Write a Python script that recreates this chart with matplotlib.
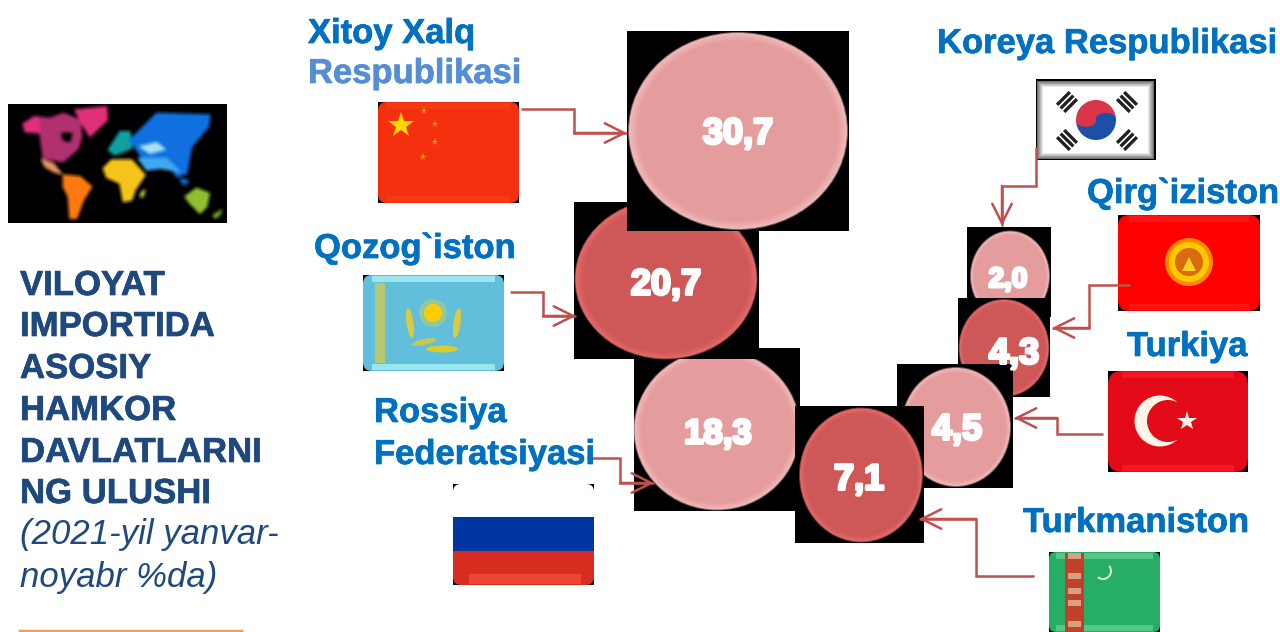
import numpy as np
import matplotlib
matplotlib.use('Agg')
import matplotlib.pyplot as plt
import matplotlib.patheffects as pe
from matplotlib.patches import Rectangle, Ellipse, FancyBboxPatch, Polygon, Circle, Wedge
from matplotlib.colors import to_rgb

plt.rcParams['font.family'] = ['Liberation Sans', 'DejaVu Sans']

# bubbles, in drawing order
values = [18.3, 20.7, 30.7, 2.0, 4.3, 4.5, 7.1]
bubble_x = [717, 666, 738, 1010, 1004, 956, 861]
bubble_y = [430, 279, 131, 276, 348, 427, 475]
bubble_w = [166, 182, 219, 79, 90, 109, 123]
bubble_h = [160, 160, 197, 90, 97, 119, 134]
# black box behind each bubble: left, top, right, bottom
boxes = [(634, 348, 800, 511), (574, 202, 759, 359), (627, 31, 849, 231),
         (967, 227, 1051, 317), (958, 298, 1050, 397), (897, 364, 1013, 488),
         (795, 406, 924, 543)]
shades = ['light', 'dark', 'light', 'light', 'dark', 'light', 'dark']
value_x = [718, 666, 738, 1008, 1014, 957, 859]
value_y = [434, 285, 134, 280, 354, 430, 480]
value_size = [25, 26, 26, 20, 26, 26, 26]

# country labels
labels = ['Xitoy Xalq', 'Respublikasi', 'Koreya Respublikasi', 'Qirg`iziston', 'Qozog`iston',
          'Turkiya', 'Rossiya', 'Federatsiyasi', 'Turkmaniston']
label_x = [308, 308, 937, 1087, 314, 1127, 374, 374, 1023]
label_y = [43, 83, 53, 203, 258, 356, 422, 464, 532]
label_col = ['#0070C0', '#558ED5', '#0070C0', '#0070C0', '#0070C0', '#0070C0', '#0070C0', '#0070C0', '#0070C0']

# connectors
links = [[(521, 109), (574, 109), (574, 133), (627, 133)],
         [(510, 292), (543, 292), (543, 316), (576, 316)],
         [(587, 458), (620, 458), (620, 483), (654, 483)],
         [(1036, 147), (1036, 186), (1002, 186), (1002, 226)],
         [(1130, 285), (1089, 285), (1089, 328), (1052, 328)],
         [(1103, 434), (1057, 434), (1057, 418), (1014, 418)],
         [(1034, 576), (976, 576), (976, 519), (919, 519)]]

title_lines = ['VILOYAT', 'IMPORTIDA', 'ASOSIY', 'HAMKOR', 'DAVLATLARNI', 'NG ULUSHI']
title_y = [295, 336, 378, 420, 462, 503]
note_lines = ['(2021-yil yanvar-', 'noyabr %da)']
note_y = [544, 587]

# world map shapes, in a 3x crop of the map (origin at 0,90)
world = [
    ('#B03070', [(70, 105), (100, 80), (150, 85), (190, 70), (240, 90), (245, 140), (235, 175), (190, 215), (130, 205), (120, 130), (78, 125)]),
    ('#E0307A', [(70, 100), (115, 80), (120, 125), (75, 125)]),
    ('#E0307A', [(225, 60), (320, 50), (322, 90), (270, 140), (248, 105)]),
    ('#000000', [(185, 130), (215, 130), (210, 155), (190, 150)]),
    ('#E89060', [(125, 208), (160, 220), (185, 252), (160, 245), (135, 230)]),
    ('#FF7A10', [(190, 255), (240, 260), (275, 290), (250, 330), (230, 385), (210, 385), (205, 320), (190, 290)]),
    ('#F5C518', [(310, 235), (335, 210), (395, 210), (435, 255), (405, 300), (395, 330), (370, 335), (360, 280), (320, 262)]),
    ('#A0C030', [(425, 305), (435, 300), (430, 320), (420, 320)]),
    ('#10A0A0', [(325, 180), (360, 125), (390, 125), (395, 175), (345, 195)]),
    ('#1070E0', [(390, 150), (470, 70), (630, 75), (625, 110), (575, 170), (560, 250), (530, 260), (500, 215), (430, 210)]),
    ('#40A8F0', [(415, 205), (500, 205), (540, 245), (480, 235), (440, 240)]),
    ('#A8E0F8', [(420, 170), (470, 158), (495, 178), (450, 190)]),
    ('#90C030', [(555, 320), (590, 295), (628, 310), (620, 350), (600, 370), (570, 340)]),
    ('#70A030', [(640, 375), (665, 360), (660, 375), (645, 385)]),
    ('#1060B0', [(540, 265), (565, 270), (560, 285), (545, 280)]),
]

fig = plt.figure(figsize=(12.8, 6.32), dpi=100)
ax = fig.add_axes([0, 0, 1, 1])


def mix(a, b, t):
    a, b = np.array(to_rgb(a)), np.array(to_rgb(b))
    return tuple(a + (b - a) * t)


def flag_base(x0, y0, x1, y1, col, rim, r=9):
    ax.add_patch(Rectangle((x0, y0), x1 - x0, y1 - y0, fc='black', ec='none', zorder=2))
    ax.add_patch(FancyBboxPatch((x0 + r, y0 + r), x1 - x0 - 2 * r, y1 - y0 - 2 * r,
                                boxstyle='round,pad=%d,rounding_size=%d' % (r, r), fc=col, ec='none', zorder=2))
    ax.add_patch(Rectangle((x0 + r, y0 + 1), x1 - x0 - 2 * r, 6, fc=rim, ec='none', zorder=2))
    ax.add_patch(Rectangle((x0 + r, y1 - 7), x1 - x0 - 2 * r, 6, fc=rim, ec='none', zorder=2))


# map, drawn apart and blurred because the original is a soft low-res image
mfig = plt.figure(figsize=(2.19, 1.19), dpi=100)
max_ = mfig.add_axes([0, 0, 1, 1])
max_.set_xlim(8, 227)
max_.set_ylim(223, 104)
max_.axis('off')
mfig.patch.set_facecolor('black')
for col, pts in world:
    xy = [(px / 3, 90 + py / 3) for px, py in pts]
    max_.add_patch(Polygon(xy, closed=True, fc=col, ec=col, lw=1, joinstyle='round'))
mfig.canvas.draw()
img = np.asarray(mfig.canvas.buffer_rgba())[:, :, :3] / 255.0
plt.close(mfig)
for axis in (0, 1):
    img = (np.roll(img, 1, axis) + np.roll(img, -1, axis) + img + np.roll(img, 2, axis) + np.roll(img, -2, axis)) / 5
ax.imshow(img, extent=(8, 227, 223, 104), zorder=1, interpolation='bilinear', aspect='auto')

ax.set_xlim(0, 1280)
ax.set_ylim(632, 0)
ax.axis('off')

# bubbles
for i in range(len(values)):
    x0, y0, x1, y1 = boxes[i]
    z = 3 + i * 0.1
    ax.add_patch(Rectangle((x0, y0), x1 - x0, y1 - y0, fc='black', ec='none', zorder=z))
    if shades[i] == 'light':
        rim, core = '#F0B8B8', '#E59C9C'
    else:
        rim, core = '#E46A6A', '#CE5757'
    ax.add_patch(Ellipse((bubble_x[i], bubble_y[i]), bubble_w[i] + 1, bubble_h[i] + 1,
                         fc=rim, alpha=0.5, ec='none', zorder=z))
    n = 8
    for k in range(n):
        t = k / (n - 1)
        s = 1 - 0.08 * t
        ax.add_patch(Ellipse((bubble_x[i], bubble_y[i]), bubble_w[i] * s - 1, bubble_h[i] * s - 1,
                             fc=mix(rim, core, t), ec='none', zorder=z + 0.001 * (k + 1)))

for i in range(len(values)):
    txt = ('%.1f' % values[i]).replace('.', ',')
    ax.text(value_x[i], value_y[i], txt, color='white', fontsize=value_size[i], fontweight='bold',
            ha='center', va='center', zorder=6,
            path_effects=[pe.withStroke(linewidth=2.2, foreground='white')])

# connectors
for pts in links:
    xs = [p[0] for p in pts]
    ys = [p[1] for p in pts]
    ax.plot(xs, ys, color='#C0504D', lw=1.8, zorder=7, solid_joinstyle='miter', solid_capstyle='butt')
    ax.annotate('', xy=pts[-1], xytext=pts[-2], zorder=7,
                arrowprops=dict(arrowstyle='->,head_length=1,head_width=0.5', color='#C0504D',
                                lw=1.8, mutation_scale=14, shrinkA=0, shrinkB=0))

# labels
for i in range(len(labels)):
    ax.text(label_x[i], label_y[i], labels[i], color=label_col[i], fontsize=24.9, fontweight='bold',
            ha='left', va='baseline', zorder=8,
            path_effects=[pe.withStroke(linewidth=0.5, foreground=label_col[i])])
for y, s in zip(title_y, title_lines):
    ax.text(20, y, s, color='#1F497D', fontsize=25, fontweight='bold', ha='left', va='baseline',
            path_effects=[pe.withStroke(linewidth=0.5, foreground='#1F497D')])
for y, s in zip(note_y, note_lines):
    ax.text(20, y, s, color='#1F497D', fontsize=25, fontstyle='italic', ha='left', va='baseline')
ax.plot([18, 243], [631, 631], color='#F59B57', lw=2.5, solid_capstyle='butt')

# China
flag_base(378, 102, 519, 203, '#F5300F', '#F83A14')
ax.plot([401], [125], marker='*', ms=19, color='#FFD800', mew=0, zorder=2.5)
for sx, sy in [(424, 111), (435, 124), (435, 142), (423, 157)]:
    ax.plot([sx], [sy], marker='*', ms=5.5, color='#FF9A10', mew=0, zorder=2.5)

# Kazakhstan
flag_base(363, 275, 504, 371, '#62BFDC', '#9BE5EE')
ax.add_patch(Rectangle((375, 283), 10, 80, fc='#B8C870', ec='none', zorder=2.5))
ax.add_patch(Circle((433, 313), 14, fc='#90C8A0', ec='none', zorder=2.5))
ax.add_patch(Circle((433, 313), 9, fc='#FFCC00', ec='none', zorder=2.6))
ax.add_patch(Ellipse((410, 323), 7, 30, angle=-8, fc='#D8CC40', ec='none', zorder=2.5))
ax.add_patch(Ellipse((457, 323), 7, 30, angle=8, fc='#D8CC40', ec='none', zorder=2.5))
ax.add_patch(Ellipse((442, 349), 32, 7, fc='#D8CC30', ec='none', zorder=2.5))
ax.add_patch(Ellipse((424, 342), 24, 6, angle=-12, fc='#C8C850', ec='none', zorder=2.5))

# Russia
ax.add_patch(Rectangle((453, 484), 141, 101, fc='black', ec='none', zorder=2))
ax.add_patch(FancyBboxPatch((461, 492), 125, 85, boxstyle='round,pad=8,rounding_size=8', fc='#D62D20', ec='none', zorder=2))
ax.add_patch(FancyBboxPatch((461, 492), 125, 40, boxstyle='round,pad=8,rounding_size=8', fc='white', ec='none', zorder=2.1))
ax.add_patch(Rectangle((453, 517), 141, 34, fc='#0036A1', ec='none', zorder=2.2))
ax.add_patch(Rectangle((469, 574), 112, 10, fc='#EE4433', ec='none', zorder=2.2))

# Korea
ax.add_patch(Rectangle((1036, 79), 120, 81, fc='black', ec='none', zorder=2))
for k in range(7):
    g = 0.45 + 0.55 * k / 6
    ax.add_patch(Rectangle((1037 + k, 81 + k), 117 - 2 * k, 78 - 2 * k, fc=(g, g, g), ec='none', zorder=2.1 + 0.01 * k))
ax.add_patch(Wedge((1096, 120), 20, 180, 360, fc='#D8344A', ec='none', zorder=2.5))
ax.add_patch(Wedge((1096, 120), 20, 0, 180, fc='#1B4FA8', ec='none', zorder=2.5))
ax.add_patch(Ellipse((1086, 121), 20, 12, fc='#D8344A', ec='none', zorder=2.6))
ax.add_patch(Ellipse((1106, 119), 20, 12, fc='#1B4FA8', ec='none', zorder=2.6))
for tx, ty, ang in [(1067, 102, 45), (1127, 102, -45), (1067, 140, -45), (1127, 140, 45)]:
    for off in [-5, 0, 5]:
        a = np.radians(ang)
        cx, cy = tx + off * np.cos(a), ty + off * np.sin(a)
        dx, dy = -9 * np.sin(a), 9 * np.cos(a)
        ax.plot([cx - dx, cx + dx], [cy - dy, cy + dy], color='#202020', lw=2.4, zorder=2.6, solid_capstyle='butt')

# Kyrgyzstan
flag_base(1118, 215, 1260, 311, '#FF0000', '#FF1414', r=11)
ax.add_patch(Circle((1189, 262), 24, fc='#FF8A00', ec='none', zorder=2.5))
ax.add_patch(Circle((1189, 262), 20, fc='#FFC800', ec='none', zorder=2.6))
ax.add_patch(Circle((1189, 262), 14, fc='#D86A10', ec='none', zorder=2.7))
ax.add_patch(Polygon([(1189, 257), (1196, 271), (1182, 271)], closed=True, fc='#FFD020', ec='none', zorder=2.8))

# Turkey
flag_base(1108, 371, 1248, 472, '#E30A17', '#F51525', r=14)
ax.add_patch(Circle((1160, 421), 25.5, fc='#FFF4E8', ec='none', zorder=2.5))
ax.add_patch(Circle((1168, 421), 21, fc='#E30A17', ec='none', zorder=2.6))
ax.plot([1187], [421], marker='*', ms=15, color='#FFF4E8', mew=0, zorder=2.7)

# Turkmenistan
flag_base(1049, 552, 1160, 632, '#27AE66', '#55C888', r=7)
ax.add_patch(Rectangle((1065, 553), 19, 79, fc='#C0402A', ec='none', zorder=2.5))
for by in [556, 576, 591, 603, 624]:
    ax.add_patch(Rectangle((1068, by - 3), 13, 6, fc='#D8A080', ec='none', zorder=2.6))
ax.add_patch(Wedge((1103, 571), 9, -40, 130, width=2, fc='#D0F0D8', ec='none', zorder=2.6))

fig.savefig('out.png', dpi=100)
